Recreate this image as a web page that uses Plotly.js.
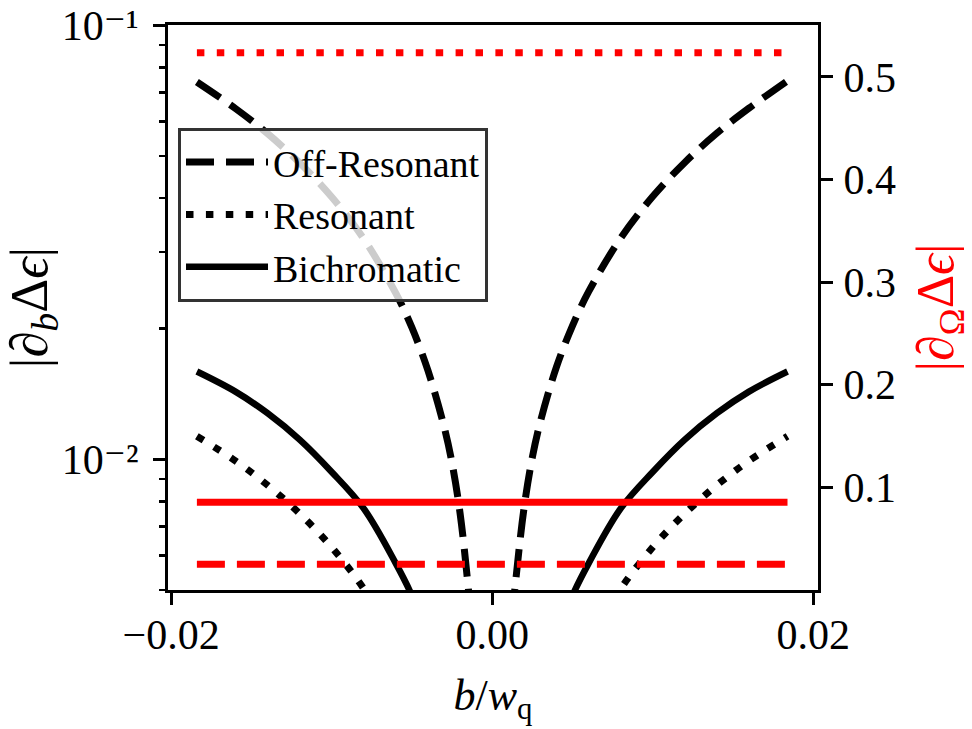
<!DOCTYPE html>
<html>
<head>
<meta charset="utf-8">
<script src="https://cdn.plot.ly/plotly-3.0.1.min.js"></script>
<style>html,body{margin:0;padding:0;background:#fff;}#chart{width:972px;height:729px;}</style>
</head>
<body>
<div id="chart"></div>
<script>
// b / w_q sample points
const bValues = [-0.0184, -0.016, -0.014, -0.012, -0.010, -0.008, -0.006, -0.005, -0.004, -0.003, -0.0025, -0.002, -0.0015, -0.001, -0.0005,
                 0.0005, 0.001, 0.0015, 0.002, 0.0025, 0.003, 0.004, 0.005, 0.006, 0.008, 0.010, 0.012, 0.014, 0.016, 0.0184];
// |d_b Δε| (left, log axis)
const offResonant = [0.0740, 0.0643, 0.0563, 0.0482, 0.0402, 0.0322, 0.0241, 0.0201, 0.0160, 0.0119, 0.0098, 0.0075, 0.0051, 0.0032, 0.0015,
                     0.0016, 0.0034, 0.0054, 0.0078, 0.0101, 0.0122, 0.0163, 0.0203, 0.0243, 0.0323, 0.0403, 0.0483, 0.0564, 0.0644, 0.0745];
const resonant = [0.01130, 0.00992, 0.00872, 0.00750, 0.00627, 0.00503, 0.00378, 0.00315, 0.00252, 0.00189, 0.00158, 0.00126, 0.00095, 0.00063, 0.00032,
                  0.00032, 0.00063, 0.00095, 0.00126, 0.00158, 0.00189, 0.00252, 0.00315, 0.00378, 0.00503, 0.00627, 0.00750, 0.00872, 0.00992, 0.01130];
const bichromatic = [0.01593, 0.01432, 0.01277, 0.01110, 0.00935, 0.00770, 0.00575, 0.00485, 0.00386, 0.00289, 0.00241, 0.00193, 0.00145, 0.00097, 0.00048,
                     0.00048, 0.00097, 0.00145, 0.00193, 0.00241, 0.00289, 0.00386, 0.00485, 0.00575, 0.00770, 0.00935, 0.01110, 0.01277, 0.01432, 0.01593];
// |d_Ω Δε| (right, linear axis)
const omegaB = [-0.0184, 0.0184];
const omegaOffResonant = [0.0250, 0.0250];
const omegaResonant = [0.5235, 0.5235];
const omegaBichromatic = [0.0854, 0.0854];

const leftTickVals = [0.01, 0.1];
const leftTickText = ['10⁻²', '10⁻¹'];
const leftMinorVals = [0.005, 0.006, 0.007, 0.008, 0.009, 0.02, 0.03, 0.04, 0.05, 0.06, 0.07, 0.08, 0.09];
const rightTickVals = [0.1, 0.2, 0.3, 0.4, 0.5];
const xTickVals = [-0.02, 0, 0.02];

const FONT = '"Liberation Serif", "DejaVu Serif", serif';
const DASH = '28px,12px';
const DOT = '7.5px,12.4px';

const traces = [
  {x: bValues, y: offResonant, name: 'Off-Resonant', mode: 'lines', line: {color: 'black', width: 7, dash: DASH, shape: 'spline', smoothing: 1}, yaxis: 'y'},
  {x: bValues, y: resonant, name: 'Resonant', mode: 'lines', line: {color: 'black', width: 7, dash: DOT, shape: 'spline', smoothing: 1}, yaxis: 'y'},
  {x: bValues, y: bichromatic, name: 'Bichromatic', mode: 'lines', line: {color: 'black', width: 6.5, shape: 'spline', smoothing: 1}, yaxis: 'y'},
  {x: omegaB, y: omegaOffResonant, showlegend: false, mode: 'lines', line: {color: 'red', width: 7, dash: DASH}, yaxis: 'y2'},
  {x: omegaB, y: omegaResonant, showlegend: false, mode: 'lines', line: {color: 'red', width: 7, dash: DOT}, yaxis: 'y2'},
  {x: omegaB, y: omegaBichromatic, showlegend: false, mode: 'lines', line: {color: 'red', width: 7}, yaxis: 'y2'}
];

const layout = {
  width: 972, height: 729,
  margin: {l: 168, r: 153.5, t: 25, b: 139},
  paper_bgcolor: 'white', plot_bgcolor: 'white',
  font: {family: FONT, size: 42, color: 'black'},
  showlegend: true,
  legend: {
    x: 0.0154, y: 0.818, xanchor: 'left', yanchor: 'top',
    bgcolor: 'rgba(255,255,255,0.8)', bordercolor: '#333', borderwidth: 3,
    font: {family: FONT, size: 38, color: 'black'},
    itemwidth: 82, tracegroupgap: 0
  },
  xaxis: {
    range: [-0.0202, 0.0203],
    tickvals: xTickVals, tickformat: '.2f',
    ticks: 'outside', ticklen: 12, tickwidth: 3, tickcolor: 'black',
    ticklabelstandoff: -6,
    showline: true, linewidth: 3, linecolor: 'black', mirror: true,
    showgrid: false, zeroline: false,
    tickfont: {family: FONT, size: 42},
    title: {text: '<i>b</i>/<i>w</i><sub>q</sub>', font: {family: FONT, size: 44}, standoff: 22}
  },
  yaxis: {
    type: 'log', range: [Math.log10(0.005), -0.9995],
    tickvals: leftTickVals, ticktext: leftTickText,
    ticks: 'outside', ticklen: 12, tickwidth: 3, tickcolor: 'black',
    ticklabelstandoff: 6, ticklabeloverflow: 'allow',
    minor: {tickvals: leftMinorVals, ticks: 'outside', ticklen: 6, tickwidth: 2.5, tickcolor: 'black', showgrid: false},
    showline: true, linewidth: 3, linecolor: 'black',
    showgrid: false, zeroline: false,
    tickfont: {family: FONT, size: 42},
    title: {text: '|∂<sub><i>b</i></sub>Δ<i>ϵ</i>|', font: {family: FONT, size: 53}, standoff: 6}
  },
  yaxis2: {
    overlaying: 'y', side: 'right', range: [0, 0.5505],
    tickvals: rightTickVals, tickformat: '.1f',
    ticks: 'outside', ticklen: 12, tickwidth: 3, tickcolor: 'black',
    ticklabelstandoff: 2,
    showline: true, linewidth: 3, linecolor: 'black',
    showgrid: false, zeroline: false,
    tickfont: {family: FONT, size: 42},
    title: {text: '|∂<sub>Ω</sub>Δ<i>ϵ</i>|', font: {family: FONT, size: 52, color: 'red'}, standoff: 28}
  }
};

Plotly.newPlot('chart', traces, layout, {staticPlot: true, displayModeBar: false});
</script>
</body>
</html>
